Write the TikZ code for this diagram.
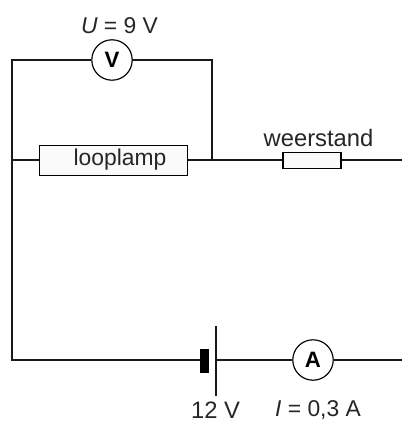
\documentclass[tikz,border=0pt]{standalone}
\usepackage{fontspec}
\setmainfont{Liberation Sans}
\usetikzlibrary{positioning}

\tikzset{
    wire/.style={line width=1.5pt,black!90},
    thinwire/.style={line width=1.1pt,black!90},
    meter/.style={circle,draw,line width=1pt,fill=white,minimum size=34.5pt,inner sep=0pt,font=\fontsize{19}{22}\selectfont\bfseries},
    part/.style={rectangle,draw,line width=1pt,fill=black!2,inner sep=0pt},
    lbl/.style={inner sep=0pt,text=black!85,font=\fontsize{20.3}{24}\selectfont},
    smalllbl/.style={lbl,font=\fontsize{19.5}{24}\selectfont},
}

\begin{document}
\begin{tikzpicture}[x=0.3mm,y=-0.3mm]
    \useasboundingbox (0,0) rectangle (402,422);

    % hoekpunten
    \coordinate (lt) at (12,60);
    \coordinate (rt) at (212,60);
    \coordinate (lm) at (12,160);
    \coordinate (rm) at (212,160);
    \coordinate (lb) at (12,360);
    \coordinate (em) at (402,160);
    \coordinate (eb) at (402,360);

    % meters en weerstanden
    \node[meter] (volt) at (112,60) {V};
    \node[meter] (amp) at (313,360) {A};
    \node[part,minimum width=127pt,minimum height=25.5pt] (lamp) at (113.5,160.5) {};
    \node[part,minimum width=49.5pt,minimum height=13pt] (res) at (312,160.5) {};

    % batterij
    \node[fill=black,inner sep=0pt,minimum width=7.7pt,minimum height=20.5pt] (minus) at (204.5,361) {};
    \node[fill=black!90,inner sep=0pt,minimum width=1.1pt,minimum height=60pt] (plus) at (216,361) {};

    % draden
    \draw[wire] (volt.west) -- (lt) -- (lb) -- (minus.west |- lb);
    \draw[wire] (volt.east) -- (rt) -- (rm);
    \draw[wire] (lm) -- (lamp.west |- lm);
    \draw[wire] (lamp.east |- rm) -- (rm);
    \draw[thinwire] (rm) -- (res.west |- rm);
    \draw[thinwire] (res.east |- rm) -- (em);
    \draw[wire] (plus.east |- lb) -- (amp.west);
    \draw[wire] (amp.east) -- (eb);

    % teksten
    \node[smalllbl] (ulbl) at (119.5,26) {\textit{U} = 9 V};
    \node[smalllbl] (lamplbl) at (120,160) {looplamp};
    \node[lbl] (reslbl) at (318.5,138) {weerstand};
    \node[lbl] (batlbl) at (215.5,410) {12 V};
    \node[smalllbl] (ilbl) at (318,410) {\textit{I} = 0,3 A};
\end{tikzpicture}
\end{document}
